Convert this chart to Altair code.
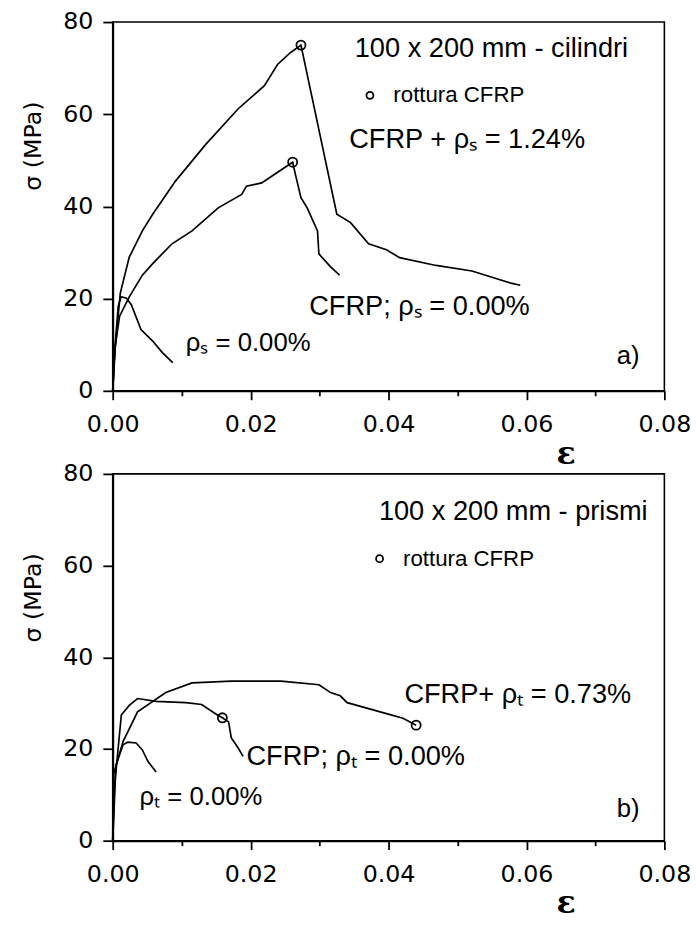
import altair as alt
import pandas as pd

# ---------- panel a) cilindri ----------
a_frp_steel_eps = [0, 0.0004, 0.0011, 0.0024, 0.0043, 0.0058, 0.0091, 0.0134, 0.0182, 0.0220, 0.0239, 0.0258, 0.0273,
                   0.0325, 0.0345, 0.0371, 0.0397, 0.0416, 0.0469, 0.0521, 0.0579, 0.0591]
a_frp_steel_sig = [0, 10, 21.2, 29.0, 34.7, 38.3, 45.5, 53.3, 61.2, 66.2, 70.8, 73.4, 75.0,
                   38.3, 36.5, 31.9, 30.6, 28.9, 27.2, 26.0, 23.3, 22.9]
a_frp_eps = [0, 0.0003, 0.0010, 0.0024, 0.0043, 0.0058, 0.0086, 0.0115, 0.0153, 0.0187, 0.0194, 0.0216, 0.0261,
             0.0265, 0.0273, 0.0282, 0.0297, 0.0299, 0.0316, 0.0329]
a_frp_sig = [0, 9, 16.2, 20.4, 25.1, 27.6, 31.9, 34.7, 39.7, 42.6, 44.4, 45.1, 49.6,
             46.9, 41.9, 39.7, 34.7, 29.7, 26.9, 25.1]
a_plain_eps = [0, 0.0003, 0.0008, 0.0012, 0.0020, 0.0027, 0.0041, 0.0058, 0.0072, 0.0087]
a_plain_sig = [0, 9, 18.3, 20.4, 20.1, 18.7, 13.3, 10.8, 8.3, 6.1]
a_break_eps = [0.0273, 0.0261]
a_break_sig = [75.0, 49.6]

# ---------- panel b) prismi ----------
b_frp_steel_eps = [0, 0.0001, 0.0015, 0.0036, 0.0077, 0.0115, 0.0172, 0.0244, 0.0299, 0.0316, 0.0330, 0.0340,
                   0.0397, 0.0421, 0.0440]
b_frp_steel_sig = [0, 14.4, 21.6, 28.1, 32.3, 34.4, 34.8, 34.8, 34.0, 32.3, 31.6, 30.1, 27.7, 26.7, 25.2]
b_frp_eps = [0, 0.0004, 0.00125, 0.0024, 0.0036, 0.0063, 0.0106, 0.0129, 0.0149, 0.0159, 0.0168, 0.0172, 0.0182, 0.0189]
b_frp_sig = [0, 14, 27.4, 29.5, 31.0, 30.4, 30.1, 29.7, 27.7, 26.8, 25.9, 22.4, 20.2, 18.4]
b_plain_eps = [0, 0.0002, 0.0005, 0.0015, 0.0022, 0.0034, 0.0043, 0.0051, 0.0063]
b_plain_sig = [0, 10, 16.6, 20.9, 21.5, 21.3, 19.8, 17.3, 15.0]
b_break_eps = [0.0159, 0.0440]
b_break_sig = [26.8, 25.2]

# ---------- annotations ----------
a_text = ["100 x 200 mm - cilindri", "rottura CFRP", "CFRP + ρₛ = 1.24%", "CFRP; ρₛ = 0.00%", "ρₛ = 0.00%", "a)"]
a_text_eps = [0.0351, 0.0407, 0.0343, 0.0285, 0.0106, 0.0731]
a_text_sig = [74.2, 64.1, 54.3, 18.2, 10.3, 7.5]
a_text_size = [27.5, 22.5, 27.5, 27.5, 26, 26]
a_legend_eps = [0.0373]
a_legend_sig = [64.1]

b_text = ["100 x 200 mm - prismi", "rottura CFRP", "CFRP+ ρₜ = 0.73%", "CFRP; ρₜ = 0.00%", "ρₜ = 0.00%", "b)"]
b_text_eps = [0.0386, 0.0421, 0.0423, 0.0194, 0.0039, 0.0731]
b_text_sig = [71.6, 61.5, 31.7, 18.3, 9.5, 6.9]
b_text_size = [27.5, 22.5, 27.5, 27.5, 26, 26]
b_legend_eps = [0.0387]
b_legend_sig = [61.5]

x_ticks = [0, 0.01, 0.02, 0.03, 0.04, 0.05, 0.06, 0.07, 0.08]
y_ticks = [0, 20, 40, 60, 80]


def curves(*pairs):
    rows = []
    for k, (e, s) in enumerate(pairs):
        for i, (ee, ss) in enumerate(zip(e, s)):
            rows.append({"curve": k, "i": i, "eps": ee, "sig": ss})
    return pd.DataFrame(rows)


x_scale = alt.Scale(domain=[0, 0.08], nice=False, zero=False)
y_scale = alt.Scale(domain=[0, 80], nice=False, zero=False)

x_axis = alt.Axis(
    values=x_ticks,
    labelExpr="round(datum.value*100) % 2 === 0 ? format(datum.value, '.2f') : ''",
    tickSize={"condition": {"test": "round(datum.value*100) % 2 === 0", "value": 9}, "value": 5},
    labelPadding=13,
    labelFlush=False,
    labelOverlap=False,
    title="ε",
    titleFont="DejaVu Serif",
    titleFontSize=32,
    titleFontWeight="bold",
    titleX=458,
    titleY=63,
    titleAlign="center",
    titleBaseline="middle",
)
y_axis = alt.Axis(
    values=y_ticks,
    tickSize=10,
    labelPadding=10,
    labelFlush=False,
    labelOverlap=False,
    title="σ (MPa)",
    titleFont="DejaVu Sans",
    titleFontSize=24,
    titleFontWeight="normal",
    titleAngle=-90,
    titleX=-80,
    titleY=125,
    titleAlign="center",
    titleBaseline="middle",
)


def panel(lines_df, br_e, br_s, leg_e, leg_s, txt, txt_e, txt_s, txt_size, h):
    lines = alt.Chart(lines_df).mark_line(color="black", strokeWidth=1.7).encode(
        x=alt.X("eps:Q", scale=x_scale, axis=x_axis),
        y=alt.Y("sig:Q", scale=y_scale, axis=y_axis),
        detail="curve:N",
        order="i:Q",
    )
    pts = pd.DataFrame({"eps": br_e + leg_e, "sig": br_s + leg_s,
                        "kind": ["b"] * len(br_e) + ["l"] * len(leg_e)})
    circles = alt.Chart(pts).mark_point(shape="circle", filled=False, color="black", strokeWidth=1.8,
                                        opacity=1).encode(
        x=alt.X("eps:Q", scale=x_scale),
        y=alt.Y("sig:Q", scale=y_scale),
        size=alt.Size("kind:N", scale=alt.Scale(domain=["b", "l"], range=[85, 50]), legend=None),
    )
    tdf = pd.DataFrame({"t": txt, "eps": txt_e, "sig": txt_s, "fs": txt_size})
    texts = alt.Chart(tdf).mark_text(align="left", baseline="middle", font="Liberation Sans", color="black").encode(
        x=alt.X("eps:Q", scale=x_scale),
        y=alt.Y("sig:Q", scale=y_scale),
        text="t:N",
        size=alt.Size("fs:Q", scale=None, legend=None),
    )
    return alt.layer(lines, circles, texts).resolve_scale(size="independent").properties(width=558, height=h)


top = panel(curves((a_frp_steel_eps, a_frp_steel_sig), (a_frp_eps, a_frp_sig), (a_plain_eps, a_plain_sig)),
            a_break_eps, a_break_sig, a_legend_eps, a_legend_sig,
            a_text, a_text_eps, a_text_sig, a_text_size, 373)
bottom = panel(curves((b_frp_steel_eps, b_frp_steel_sig), (b_frp_eps, b_frp_sig), (b_plain_eps, b_plain_sig)),
               b_break_eps, b_break_sig, b_legend_eps, b_legend_sig,
               b_text, b_text_eps, b_text_sig, b_text_size, 371)

chart = alt.vconcat(top, bottom, spacing=84, bounds="flush").properties(
    padding={"left": 21, "top": 4, "right": 5, "bottom": 2},
    background="white",
).configure_axis(
    labelFont="DejaVu Sans",
    labelFontSize=24,
    labelColor="black",
    domainColor="black",
    domainWidth=2,
    tickColor="black",
    tickWidth=1.8,
    grid=False,
    titleColor="black",
).configure_view(
    stroke="black",
    strokeWidth=1.6,
)

chart.save("out.html", embed_options={"renderer": "svg", "actions": False})
